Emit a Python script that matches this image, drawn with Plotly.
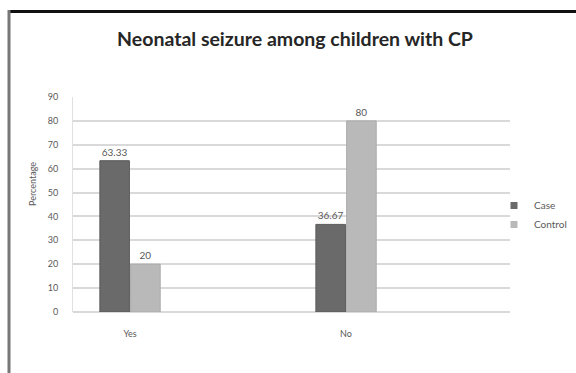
import plotly.graph_objects as go

categories = ["Yes", "No"]
case_values = [63.33, 36.67]
control_values = [20, 80]
case_labels = ["63.33", "36.67"]
control_labels = ["20", "80"]
y_ticks = [0, 10, 20, 30, 40, 50, 60, 70, 80, 90]
series_names = ["Case", "Control"]
series_colors = ["#6a6a6a", "#b9b9b9"]

W, H = 576, 373
L, R, T, B = 73, 510, 97, 312  # plot area pixels

def px(x):
    return (x - L) / (R - L)

def py(y):
    return (B - y) / (B - T)

font_family = "Lato, 'Open Sans', sans-serif"
gray_text = "#595959"

fig = go.Figure()
for name, vals, labels, color, edge in [
    (series_names[0], case_values, case_labels, series_colors[0], "#5a5a5a"),
    (series_names[1], control_values, control_labels, series_colors[1], "#aaaaaa"),
]:
    fig.add_trace(go.Bar(
        name=name, x=categories, y=vals, text=labels,
        textposition="outside", textfont=dict(size=10, color=gray_text),
        marker=dict(color=color, line=dict(color=edge, width=1)),
        cliponaxis=False, showlegend=False,
    ))
# legend entries with small square symbols (as in the reference)
for name, color in zip(series_names, series_colors):
    fig.add_trace(go.Scatter(
        name=name, x=[None], y=[None], mode="markers",
        marker=dict(symbol="square", size=7, color=color),
        showlegend=True,
    ))

fig.update_layout(
    width=W, height=H,
    margin=dict(l=L, r=W - R, t=T, b=H - B, pad=0, autoexpand=False),
    paper_bgcolor="white", plot_bgcolor="white",
    font=dict(family=font_family, color=gray_text, size=9),
    barmode="group", bargap=0.715, bargroupgap=0.04,
    title=dict(text="Neonatal seizure among children with CP",
               x=295 / W, xanchor="center", y=1 - 39 / H, yanchor="middle",
               xref="container", yref="container",
               font=dict(family=font_family, size=19.5, color="#262626",
                         weight="bold")),
    showlegend=True,
    legend=dict(x=494 / W, y=1 - 191 / H, xanchor="left", yanchor="top",
                xref="container", yref="container",
                font=dict(size=10, color=gray_text), bgcolor="rgba(0,0,0,0)",
                itemwidth=30),
    xaxis=dict(range=[-0.264, 1.759], showgrid=False, showline=False,
               zeroline=False, ticks="", ticklabelstandoff=15,
               tickfont=dict(size=9, color=gray_text)),
    yaxis=dict(range=[0, 90], tickvals=y_ticks, showgrid=True,
               gridcolor="#d9d9d9", gridwidth=1.8, zeroline=True,
               zerolinecolor="#d9d9d9", zerolinewidth=1.8,
               showline=True, linecolor="#e0e0e0", linewidth=1,
               ticks="", ticklabelstandoff=12,
               tickfont=dict(size=9, color=gray_text)),
)

fig.add_annotation(text="Percentage", textangle=-90, x=px(32), y=py(184),
                   xref="paper", yref="paper", xanchor="center",
                   yanchor="middle", showarrow=False,
                   font=dict(size=9, color=gray_text))

# outer frame lines (top black, left gray)
fig.add_shape(type="line", xref="paper", yref="paper",
              x0=px(8), x1=px(577), y0=py(11.5), y1=py(11.5),
              line=dict(color="#111111", width=3))
fig.add_shape(type="line", xref="paper", yref="paper",
              x0=px(9), x1=px(9), y0=py(10), y1=py(374),
              line=dict(color="#777777", width=3))

fig.write_html("out.html")
